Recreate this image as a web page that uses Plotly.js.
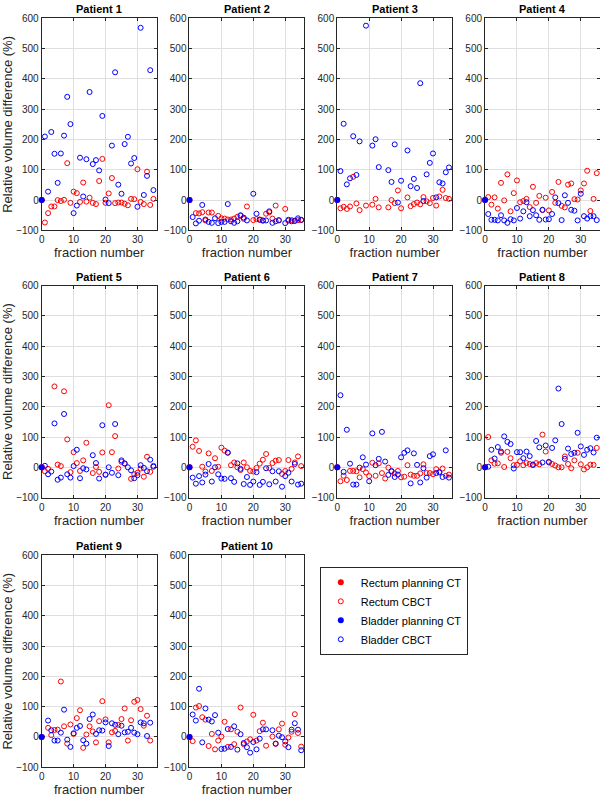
<!DOCTYPE html>
<html>
<head>
<meta charset="utf-8">
<script src="https://cdn.plot.ly/plotly-3.0.1.min.js"></script>
<style>
  html, body { margin: 0; padding: 0; background: #ffffff; }
  #data { width: 600px; height: 800px; }
</style>
</head>
<body>
<div id="data"></div>
<script>
var fractions = [1, 2, 3, 4, 5, 6, 7, 8, 9, 10, 11, 12, 13, 14, 15, 16, 17, 18,
  19, 20, 21, 22, 23, 24, 25, 26, 27, 28, 29, 30, 31, 32, 33, 34, 35];
var planningX = [0];
var planningY = [0];

var patientNames = ['Patient 1', 'Patient 2', 'Patient 3', 'Patient 4', 'Patient 5',
  'Patient 6', 'Patient 7', 'Patient 8', 'Patient 9', 'Patient 10'];

// relative volume difference (%) per fraction, null = no CBCT that fraction
var rectum1 = [-74, -43, -21, -21, 0, -3, 1, 122, -9, 28, 23, -6, 58, -5, 8, -9, -13, 63,
  136, -9, 22, 73, -10, -8, -8, -12, -17, 4, 3, 102, -6, -13, 94, -16, 4];
var bladder1 = [210, 28, 225, 153, 57, 154, 213, 341, 251, -43, -18, 140, 12, 135, 357, 119, 132, 98,
  278, 2, -10, 180, 422, 51, 21, 185, 209, 121, 139, -22, 569, 17, 80, 429, 33];

var rectum2 = [null, -43, -44, -40, -67, -41, -41, null, -52, -60, -61, -64, -64, -61, -55, -52, -62, -21,
  null, -66, -63, -64, -68, -45, -40, -61, -18, -66, null, -29, -68, -66, -69, -66, -66];
var bladder2 = [-56, -77, -68, -16, -64, -72, -75, -60, -76, -72, -72, -13, -70, -75, -70, -50, -58, -67,
  null, 21, -45, -65, -67, -67, -37, -75, -70, -67, null, -76, -65, -70, -68, -60, -65];

var rectum3 = [-27, -22, -29, -21, 77, -11, -33, null, -18, null, -15, 4, -24, null, null, -24, 0, -10,
  32, -27, null, 9, -20, -13, -8, -14, 10, -4, -10, 7, -18, 12, 34, 7, 4];
var bladder3 = [96, 252, 52, 72, 211, 83, 194, null, 576, null, 180, 201, 109, null, null, 99, 60, 184,
  -8, 64, null, 164, 46, 70, 40, 386, -3, 85, 123, 154, 9, 59, 55, 92, 108];

var rectum4 = [10, -15, 9, -28, 57, -1, 85, -37, 23, 65, -7, -3, 4, -23, 44, -9, 14, -33,
  8, -34, 27, -9, 60, -19, -24, 51, 55, 3, 2, 32, 55, 97, -36, 4, 89];
var bladder4 = [-46, -65, -65, -67, -50, -67, -75, -63, -67, -26, -61, -37, -7, -53, -33, -50, -65, -32,
  -64, -63, -46, 9, -10, -66, 16, -9, -32, -35, -67, 21, -53, -61, -53, -53, -66];

var rectum5 = [-13, -5, null, 267, 9, 4, 251, 92, -16, 50, 14, -12, 23, 81, null, -19, 1, -15,
  49, -25, 205, 50, 103, -4, 18, 12, null, -38, -23, -18, -4, -31, 35, -15, 5];
var bladder5 = [5, -23, -14, 145, -41, -34, 176, -23, -34, 4, 58, -36, -3, -7, null, 40, 14, -37,
  139, -24, 0, -18, 143, -26, 23, 13, 0, -10, -36, -26, 7, -2, -13, 25, 2];

var rectum6 = [68, 89, 54, 2, -14, 46, -12, 30, 2, 65, 55, 49, 7, 16, 0, -9, 16, 0,
  -12, -14, -2, 12, 25, 44, -2, 14, 22, 24, -22, -12, 24, -5, 16, 36, 4];
var bladder6 = [-34, -54, -29, -50, -24, 11, -47, 0, -23, -37, -38, 48, -36, -48, 13, -5, -55, -32,
  -58, -47, -16, -58, -48, -3, -56, -13, -47, -13, -64, -29, -18, -47, 11, -57, -54];

var rectum7 = [-46, -28, -42, -12, -12, -13, -33, -6, -17, -29, 15, -28, 13, -19, -37, -1, -14, -20,
  -12, -33, -31, 7, -24, -28, -28, -20, 10, -19, -19, -23, -6, -15, -4, -28, -24];
var bladder7 = [238, -15, 124, 12, -57, -57, -1, 33, 9, -46, 112, 7, 28, 117, 19, -25, -12, -32,
  -24, 33, 48, 56, -53, 46, 8, -50, -3, -34, 37, 43, -19, -17, -32, 56, -34];

var rectum8 = [100, 23, 12, 13, 48, 1, 51, 30, 7, 8, 20, 7, 14, 11, 7, 14, 10, 108,
  52, 16, 11, 6, 0, 0, 36, 11, -3, 23, 48, 10, -7, 0, 9, 8, 64];
var bladder8 = [2, 58, 29, 67, 52, 102, 84, 77, -4, 50, 50, 30, 52, 37, 9, 87, 66, 16,
  72, 18, 64, 89, 260, 143, 28, 62, 44, 48, 114, 69, 41, 58, 63, 49, 98];

var rectum9 = [null, 30, 6, 23, 24, 183, 35, -22, 41, 10, 62, 88, -36, 8, 35, 18, -18, 52,
  118, 58, -18, 15, 20, 40, 59, 94, -12, 55, 116, 122, 92, 37, 70, -12, null];
var bladder9 = [null, 54, 22, -12, -12, 14, 90, -9, -33, 12, 30, 36, -11, -22, 59, 74, 10, 22,
  21, 48, -30, 45, 40, 9, 37, 15, 17, 30, 14, 9, 48, 45, 3, 47, null];

var rectum10 = [-14, 97, 102, 65, 57, -30, 10, -41, -12, 1, 50, -33, 25, -24, 17, 97, -24, -15,
  -8, 73, -12, 19, 47, -29, null, 1, -23, 25, 44, -26, -2, 17, 75, 13, -32];
var bladder10 = [74, 54, 159, -18, 94, 57, 51, 72, 14, -40, -39, 26, -33, 35, -42, 9, -20, -34,
  -52, -17, -41, -6, 25, 25, null, 22, -22, 4, -1, -15, -34, 24, 45, 24, -44];

var rectumAll = [rectum1, rectum2, rectum3, rectum4, rectum5, rectum6, rectum7, rectum8, rectum9, rectum10];
var bladderAll = [bladder1, bladder2, bladder3, bladder4, bladder5, bladder6, bladder7, bladder8, bladder9, bladder10];

var RED = '#ff0000';
var BLUE = '#0000ff';
var INK = '#262626';
var FONT = 'Liberation Sans, Arial, Helvetica, sans-serif';

// panel grid, in paper fractions
var colStart = 0.0695;
var colStep = 0.2463;
var colWidth = 0.1915;
var rowTops = [0.977, 0.643, 0.306];
var rowHeight = 0.265;

var layout = {
  width: 600,
  height: 800,
  margin: { l: 0, r: 0, t: 0, b: 0, pad: 0 },
  paper_bgcolor: '#ffffff',
  plot_bgcolor: '#ffffff',
  font: { family: FONT, color: INK, size: 11 },
  showlegend: true,
  legend: {
    x: 0.533,
    y: 0.2915,
    xanchor: 'left',
    yanchor: 'top',
    bgcolor: '#ffffff',
    bordercolor: INK,
    borderwidth: 1,
    font: { family: FONT, size: 11, color: '#000000' },
    traceorder: 'normal'
  },
  annotations: []
};
var config = {
  responsive: false,
  displayModeBar: false,
  staticPlot: true
};

function axis_suffix(i) {
  return i === 0 ? '' : String(i + 1);
}

function make_xaxis(col, i) {
  var start = colStart + col * colStep;
  return {
    domain: [start, start + colWidth],
    anchor: 'y' + axis_suffix(i),
    range: [0, 36],
    tickvals: [0, 10, 20, 30],
    layer: 'below traces',
    showgrid: true,
    gridcolor: '#dfdfdf',
    gridwidth: 1,
    zeroline: false,
    showline: true,
    linecolor: INK,
    linewidth: 1,
    mirror: 'ticks',
    ticks: 'inside',
    ticklen: 3,
    tickcolor: INK,
    tickfont: { size: 10, color: INK },
    title: {
      text: 'fraction number',
      font: { size: 13, color: INK },
      standoff: 3
    }
  };
}

function make_yaxis(row, col, i) {
  var top = rowTops[row];
  var ax = {
    domain: [top - rowHeight, top],
    anchor: 'x' + axis_suffix(i),
    range: [-100, 600],
    tick0: 0,
    dtick: 100,
    layer: 'below traces',
    showgrid: true,
    gridcolor: '#dfdfdf',
    gridwidth: 1,
    zeroline: false,
    showline: true,
    linecolor: INK,
    linewidth: 1,
    mirror: 'ticks',
    ticks: 'inside',
    ticklen: 3,
    tickcolor: INK,
    tickfont: { size: 10, color: INK }
  };
  if (col === 0) {
    ax.title = {
      text: 'Relative volume difference (%)',
      font: { size: 13, color: INK },
      standoff: 2
    };
  }
  return ax;
}

function cbct_trace(name, y, color, i, rank) {
  return {
    type: 'scatter',
    mode: 'markers',
    x: fractions,
    y: y,
    xaxis: 'x' + axis_suffix(i),
    yaxis: 'y' + axis_suffix(i),
    name: name,
    legendrank: rank,
    showlegend: i === 0,
    cliponaxis: false,
    marker: {
      symbol: 'circle-open',
      size: 5,
      color: color,
      line: { width: 1, color: color }
    },
    hoverinfo: 'skip'
  };
}

function planning_trace(name, color, i, rank) {
  return {
    type: 'scatter',
    mode: 'markers',
    x: planningX,
    y: planningY,
    xaxis: 'x' + axis_suffix(i),
    yaxis: 'y' + axis_suffix(i),
    name: name,
    legendrank: rank,
    showlegend: i === 0,
    cliponaxis: false,
    marker: { symbol: 'circle', size: 6, color: color, line: { width: 0 } },
    hoverinfo: 'skip'
  };
}

var traces = [];
patientNames.forEach(function (title, i) {
  var row = Math.floor(i / 4);
  var col = i % 4;

  layout['xaxis' + axis_suffix(i)] = make_xaxis(col, i);
  layout['yaxis' + axis_suffix(i)] = make_yaxis(row, col, i);

  traces.push(cbct_trace('Rectum CBCT', rectumAll[i], RED, i, 2));
  traces.push(cbct_trace('Bladder CBCT', bladderAll[i], BLUE, i, 4));
  traces.push(planning_trace('Rectum planning CT', RED, i, 1));
  traces.push(planning_trace('Bladder planning CT', BLUE, i, 3));

  layout.annotations.push({
    text: '<b>' + title + '</b>',
    xref: 'paper',
    yref: 'paper',
    x: colStart + col * colStep + colWidth / 2,
    y: rowTops[row],
    xanchor: 'center',
    yanchor: 'bottom',
    yshift: 1,
    showarrow: false,
    font: { family: FONT, size: 11, color: '#000000' }
  });
});

Plotly.newPlot('data', traces, layout, config);
</script>
</body>
</html>
